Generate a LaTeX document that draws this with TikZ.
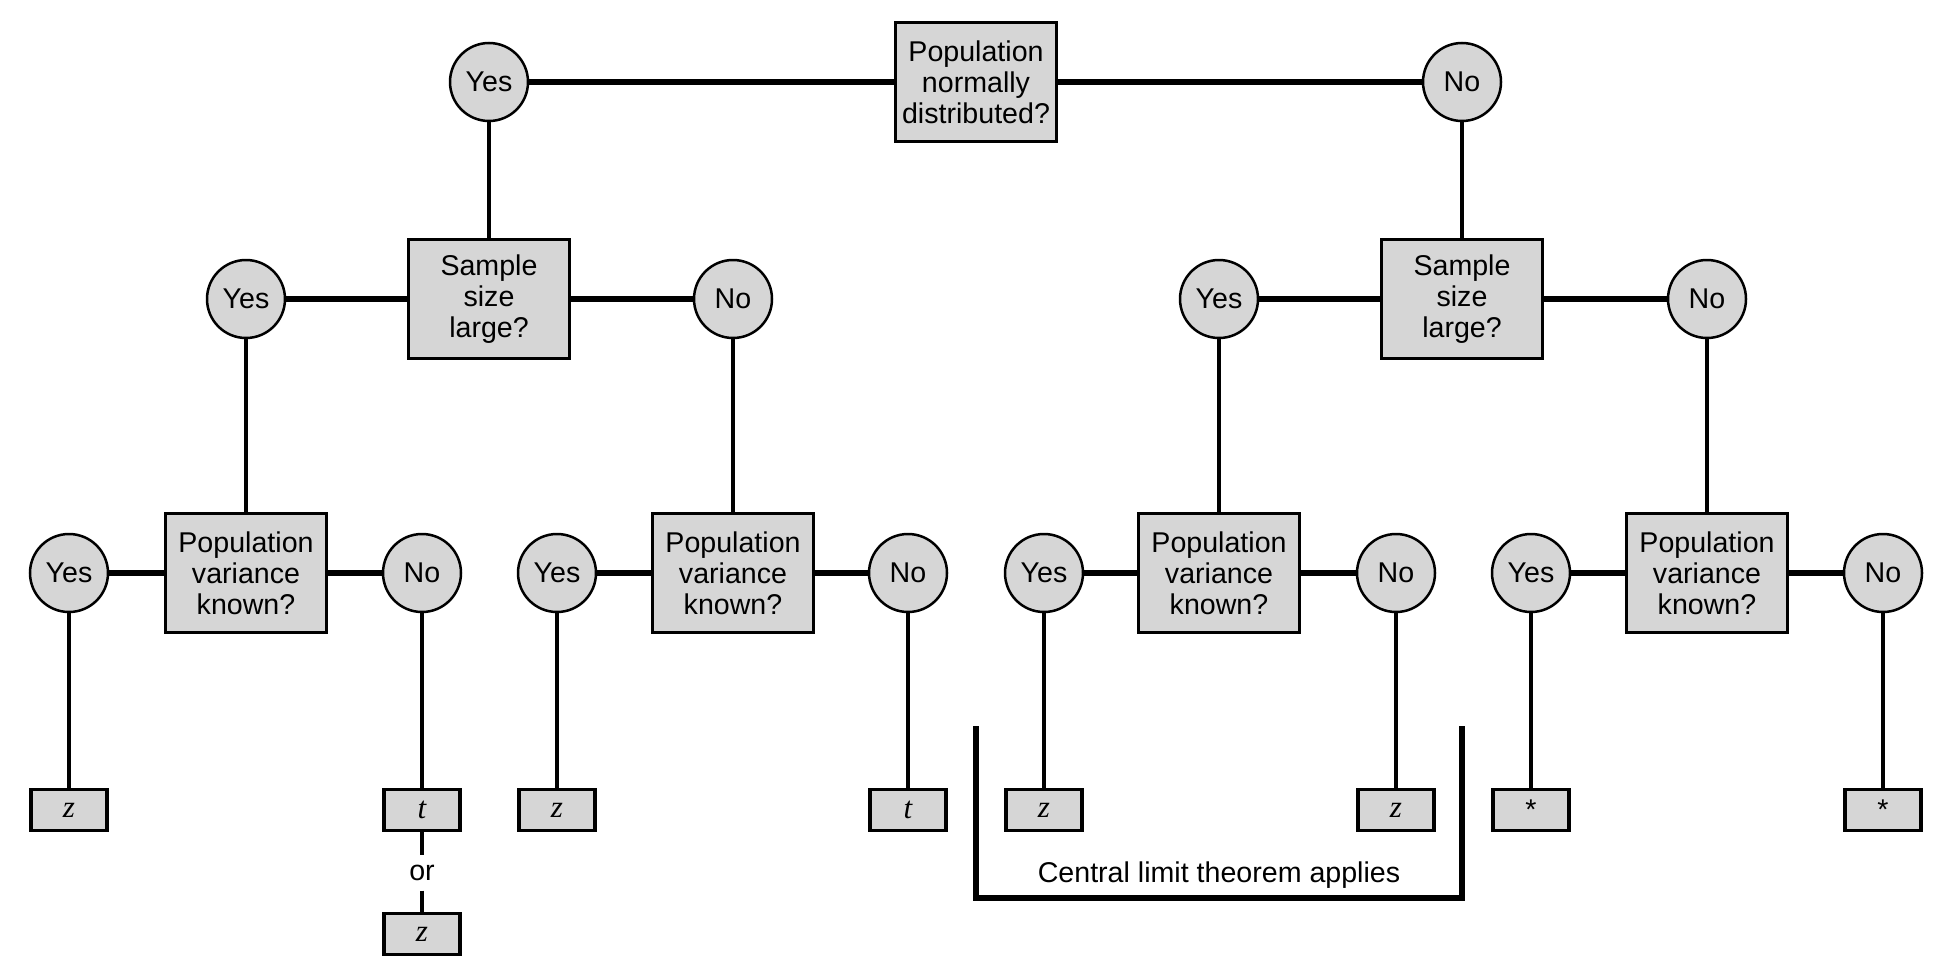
\documentclass[tikz,border=0pt]{standalone}
\usepackage{fontspec}
\setmainfont{Liberation Sans}
\newfontfamily\leaffont{Liberation Serif}
\definecolor{boxgray}{RGB}{214,214,214}
\begin{document}
\begin{tikzpicture}[x=1pt,y=-1pt,
  every node/.style={font=\fontsize{28.6}{31}\selectfont, text=black},
  qbox/.style={draw,line width=3.5pt,fill=boxgray,minimum width=161pt,minimum height=119pt,align=center,inner sep=0pt},
  ans/.style={circle,draw,line width=2.5pt,fill=boxgray,minimum size=78pt,inner sep=0pt},
  leaf/.style={draw,line width=3.5pt,fill=boxgray,minimum width=76pt,minimum height=41pt,inner sep=0pt},
  leaftext/.style={font=\leaffont\itshape\fontsize{31}{33}\selectfont},
  hl/.style={line width=5.5pt},
  vl/.style={line width=4.2pt},
  bracket/.style={line width=5.5pt}]
\useasboundingbox (0,0) rectangle (1935,966);

% level 0
\node[qbox] (top) at (976,82) {Population\\normally\\distributed?};
\node[ans] (y0) at (489,82) {Yes};
\node[ans] (n0) at (1462,82) {No};

% level 1
\node[qbox] (sL) at (489,299) {Sample\\size\\large?};
\node[qbox] (sR) at (1462,299) {Sample\\size\\large?};
\node[ans] (yL) at (246,299) {Yes};
\node[ans] (nL) at (733,299) {No};
\node[ans] (yR) at (1219,299) {Yes};
\node[ans] (nR) at (1707,299) {No};

% level 2
\node[qbox] (pLL) at (246,573) {Population\\variance\\known?};
\node[qbox] (pLR) at (733,573) {Population\\variance\\known?};
\node[qbox] (pRL) at (1219,573) {Population\\variance\\known?};
\node[qbox] (pRR) at (1707,573) {Population\\variance\\known?};

\node[ans] (a1) at (69,573) {Yes};
\node[ans] (a2) at (422,573) {No};
\node[ans] (a3) at (557,573) {Yes};
\node[ans] (a4) at (908,573) {No};
\node[ans] (a5) at (1044,573) {Yes};
\node[ans] (a6) at (1396,573) {No};
\node[ans] (a7) at (1531,573) {Yes};
\node[ans] (a8) at (1883,573) {No};

% leaves
\node[leaf,leaftext] (l1) at (69,810) {z};
\node[leaf,leaftext] (l2) at (422,810) {t};
\node[leaf,leaftext] (l3) at (557,810) {z};
\node[leaf,leaftext] (l4) at (908,810) {t};
\node[leaf,leaftext] (l5) at (1044,810) {z};
\node[leaf,leaftext] (l6) at (1396,810) {z};
\node[leaf] (l7) at (1531,810) {*};
\node[leaf] (l8) at (1883,810) {*};

\node[minimum height=35pt,inner sep=0pt] (or) at (422,873) {or};
\node[leaf,leaftext] (l2b) at (422,934) {z};

% horizontal connectors
\draw[hl] (y0.east) -- (top.west);
\draw[hl] (top.east) -- (n0.west);
\draw[hl] (yL.east) -- (sL.west);
\draw[hl] (sL.east) -- (nL.west);
\draw[hl] (yR.east) -- (sR.west);
\draw[hl] (sR.east) -- (nR.west);
\draw[hl] (a1.east) -- (pLL.west);
\draw[hl] (pLL.east) -- (a2.west);
\draw[hl] (a3.east) -- (pLR.west);
\draw[hl] (pLR.east) -- (a4.west);
\draw[hl] (a5.east) -- (pRL.west);
\draw[hl] (pRL.east) -- (a6.west);
\draw[hl] (a7.east) -- (pRR.west);
\draw[hl] (pRR.east) -- (a8.west);

% vertical connectors
\draw[vl] (y0.south) -- (sL.north);
\draw[vl] (n0.south) -- (sR.north);
\draw[vl] (yL.south) -- (pLL.north);
\draw[vl] (nL.south) -- (pLR.north);
\draw[vl] (yR.south) -- (pRL.north);
\draw[vl] (nR.south) -- (pRR.north);
\draw[vl] (a1.south) -- (l1.north);
\draw[vl] (a2.south) -- (l2.north);
\draw[vl] (a3.south) -- (l3.north);
\draw[vl] (a4.south) -- (l4.north);
\draw[vl] (a5.south) -- (l5.north);
\draw[vl] (a6.south) -- (l6.north);
\draw[vl] (a7.south) -- (l7.north);
\draw[vl] (a8.south) -- (l8.north);
\draw[vl] (l2.south) -- (or.north);
\draw[vl] (or.south) -- (l2b.north);

% central limit theorem bracket
\coordinate (bTL) at (976,726);
\coordinate (bBL) at (976,898);
\coordinate (bBR) at (1462,898);
\coordinate (bTR) at (1462,726);
\draw[bracket] (bTL) -- (bBL) -- (bBR) -- (bTR);
\node (clt) at (1219,875) {Central limit theorem applies};
\end{tikzpicture}
\end{document}
